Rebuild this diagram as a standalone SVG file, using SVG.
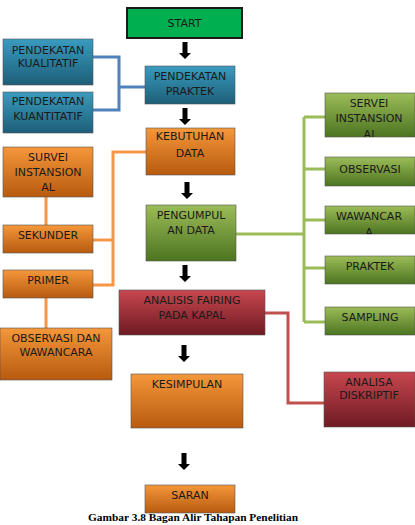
<svg xmlns="http://www.w3.org/2000/svg" width="415" height="525" viewBox="0 0 415 525">
<defs>
<linearGradient id="gb" x1="0" y1="0" x2="0" y2="1"><stop offset="0" stop-color="#3a9bbf"/><stop offset="1" stop-color="#1d5e78"/></linearGradient>
<linearGradient id="go" x1="0" y1="0" x2="0" y2="1"><stop offset="0" stop-color="#f5973a"/><stop offset="1" stop-color="#b75a0f"/></linearGradient>
<linearGradient id="gg" x1="0" y1="0" x2="0" y2="1"><stop offset="0" stop-color="#9cbc58"/><stop offset="1" stop-color="#4c7420"/></linearGradient>
<linearGradient id="gr" x1="0" y1="0" x2="0" y2="1"><stop offset="0" stop-color="#c8474f"/><stop offset="1" stop-color="#6e1a22"/></linearGradient>
<path id="arr" d="M-2.5,0 H2.5 V11 H6 L0,17 L-6,11 H-2.5 Z" fill="#000"/>
<clipPath id="c1"><rect x="325" y="93" width="90" height="44"/></clipPath>
<clipPath id="c2"><rect x="325" y="206" width="90" height="28"/></clipPath>
</defs>
<style>
text{font-family:"DejaVu Sans","Liberation Sans",sans-serif;font-size:11px;fill:#1a1a1a;text-anchor:middle}
.box{stroke:#555;stroke-width:0.6}
.b{fill:url(#gb)}.o{fill:url(#go)}.g{fill:url(#gg)}.r{fill:url(#gr)}
.lb{fill:none;stroke:#4f81bd;stroke-width:3}
.lo{fill:none;stroke:#f79646;stroke-width:3}
.lg{fill:none;stroke:#9bbb59;stroke-width:3}
.lr{fill:none;stroke:#c0504d;stroke-width:3}
.cap{font-family:"Liberation Serif",serif;font-weight:bold;font-size:11px;fill:#000}
</style>
<rect width="415" height="525" fill="#fff"/>
<g id="connectors">
<path class="lb" d="M93,57 H119 V110 H93 M119,87 H146"/>
<path class="lo" d="M46,197 V225 M93,240 H113 M93,285 H113 V152 H146 M46,298 V328"/>
<path class="lg" d="M236,234 H304 M304,117 V322 M304,117 H325 M304,169 H325 M304,220 H325 M304,268 H325 M304,322 H325"/>
<path class="lr" d="M265,313 H288 V403 H325"/>
<use href="#arr" x="185" y="42"/>
<use href="#arr" x="185" y="108"/>
<use href="#arr" x="187" y="182"/>
<use href="#arr" x="185" y="265"/>
<use href="#arr" x="184" y="345"/>
<use href="#arr" x="184" y="453"/>
</g>
<g id="start"><rect x="127" y="8" width="115" height="30" fill="#00b050" stroke="#1a1a1a" stroke-width="2"/><text x="184.5" y="27">START</text></g>
<g id="praktek"><rect class="box b" x="145" y="66" width="90" height="38"/><text x="190" y="80">PENDEKATAN</text><text x="190" y="95">PRAKTEK</text></g>
<g id="kualitatif"><rect class="box b" x="3" y="39" width="90" height="46"/><text x="48" y="54">PENDEKATAN</text><text x="48" y="67">KUALITATIF</text></g>
<g id="kuantitatif"><rect class="box b" x="3" y="92" width="90" height="41"/><text x="48" y="105">PENDEKATAN</text><text x="48" y="120">KUANTITATIF</text></g>
<g id="kebutuhan"><rect class="box o" x="146" y="128" width="89" height="47"/><text x="190" y="140">KEBUTUHAN</text><text x="190" y="157">DATA</text></g>
<g id="pengumpulan"><rect class="box g" x="146" y="205" width="90" height="56"/><text x="191" y="219">PENGUMPUL</text><text x="191" y="234">AN DATA</text></g>
<g id="analisis"><rect class="box r" x="119" y="290" width="146" height="45"/><text x="192" y="304">ANALISIS FAIRING</text><text x="192" y="319">PADA KAPAL</text></g>
<g id="kesimpulan"><rect class="box o" x="131" y="374" width="112" height="54"/><text x="187" y="388">KESIMPULAN</text></g>
<g id="saran"><rect class="box o" x="145" y="485" width="90" height="28"/><text x="190" y="499">SARAN</text></g>
<g id="survei"><rect class="box o" x="3" y="147" width="90" height="50"/><text x="48" y="161">SURVEI</text><text x="48" y="176">INSTANSION</text><text x="48" y="191">AL</text></g>
<g id="sekunder"><rect class="box o" x="3" y="225" width="90" height="28"/><text x="48" y="239">SEKUNDER</text></g>
<g id="primer"><rect class="box o" x="3" y="270" width="90" height="28"/><text x="48" y="284">PRIMER</text></g>
<g id="obswaw"><rect class="box o" x="0" y="328" width="112" height="52"/><text x="56" y="342">OBSERVASI DAN</text><text x="56" y="356">WAWANCARA</text></g>
<g id="servei"><rect class="box g" x="325" y="93" width="90" height="44"/><g clip-path="url(#c1)"><text x="369" y="107">SERVEI</text><text x="369" y="122">INSTANSION</text><text x="369" y="138">AI</text></g></g>
<g id="observasi"><rect class="box g" x="325" y="157" width="90" height="29"/><text x="370" y="173">OBSERVASI</text></g>
<g id="wawancara"><rect class="box g" x="325" y="206" width="90" height="28"/><g clip-path="url(#c2)"><text x="369" y="220">WAWANCAR</text><text x="369" y="236">A</text></g></g>
<g id="praktek2"><rect class="box g" x="325" y="256" width="90" height="28"/><text x="370" y="270">PRAKTEK</text></g>
<g id="sampling"><rect class="box g" x="325" y="307" width="90" height="28"/><text x="370" y="321">SAMPLING</text></g>
<g id="diskriptif"><rect class="box r" x="324" y="372" width="91" height="55"/><text x="369" y="386">ANALISA</text><text x="369" y="399">DISKRIPTIF</text></g>
<text class="cap" x="193" y="521" textLength="210" lengthAdjust="spacingAndGlyphs">Gambar 3.8 Bagan Alir Tahapan Penelitian</text>
</svg>
